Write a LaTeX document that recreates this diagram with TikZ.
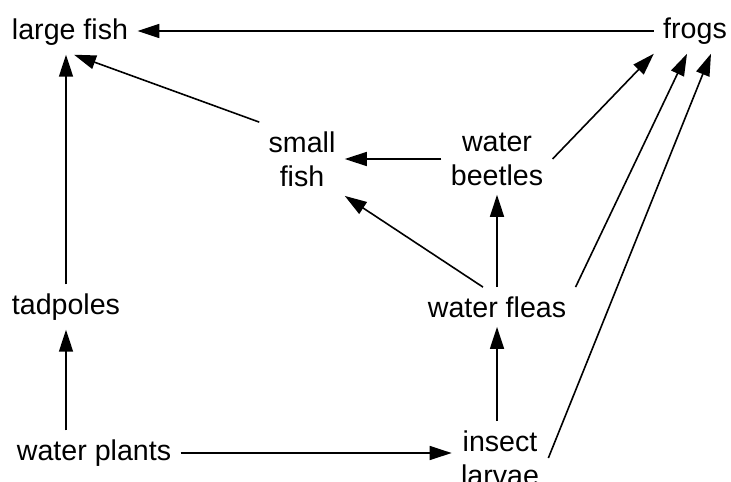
\documentclass[tikz,border=0pt]{standalone}
\usepackage{fontspec}
\setmainfont{Liberation Sans}
\usetikzlibrary{arrows.meta}
\tikzset{
  organism/.style={font=\fontsize{14.3}{17}\selectfont, align=center, inner sep=4.5pt},
  eats/.style={-{Triangle[length=11pt,width=7pt]}, line width=0.8pt}
}
\begin{document}
\begin{tikzpicture}[x=0.5pt,y=-0.5pt]
\useasboundingbox (0,0) rectangle (731,481);
% Organismes
\node[organism] (lfish) at (70,32) {large fish};
\node[organism] (frogs) at (695,31) {frogs};
\node[organism] (sfish) at (302,159) {small\\fish};
\node[organism] (beetles) at (497,159) {water\\beetles};
\node[organism] (tad) at (66,307) {tadpoles};
\node[organism] (fleas) at (497,307) {water fleas};
\node[organism] (plants) at (94,453) {water plants};
\node[organism] (larvae) at (500,458) {insect\\larvae};
% Fleches vers large fish
\draw[eats] (frogs.west) -- (frogs.west -| lfish.east);
\draw[eats] (tad.north) -- (tad.north |- lfish.south);
\draw[eats] (sfish.north west) -- ([xshift=2pt]lfish.south);
% Fleches vers small fish et beetles
\draw[eats] (beetles.west) -- (beetles.west -| sfish.east);
\draw[eats] ([xshift=-7pt]fleas.north) -- (sfish.south east);
\draw[eats] (fleas.north) -- (beetles.south);
% Fleches du bas
\draw[eats] (tad.south |- plants.north) -- (tad.south);
\draw[eats] (plants.east) -- (plants.east -| larvae.west);
\draw[eats] (larvae.north -| fleas.south) -- (fleas.south);
% Fleches vers frogs
\draw[eats] (beetles.east) -- (frogs.south west);
\draw[eats] (fleas.north east) -- ([xshift=-4pt]frogs.south);
\draw[eats] (larvae.east) -- ([xshift=8pt]frogs.south);
\end{tikzpicture}
\end{document}
